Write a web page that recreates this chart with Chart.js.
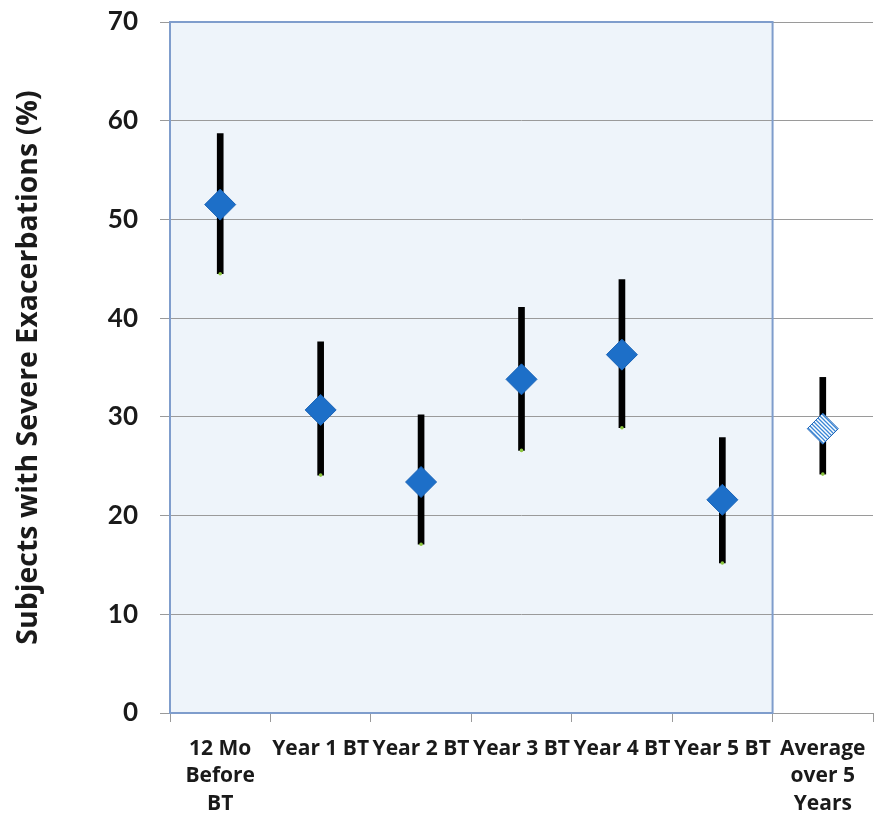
<!DOCTYPE html>
<html>
<head>
<meta charset="utf-8">
<script src="https://cdn.jsdelivr.net/npm/chart.js@4"></script>
<style>
  html, body { margin: 0; padding: 0; background: #fff; overflow: hidden; }
  #wrap { width: 874px; height: 829px; }
  canvas { display: block; }
</style>
</head>
<body>
<div id="wrap"><canvas id="chart" width="874" height="829"></canvas></div>
<script>
// categories along the x axis
var categories = [["12 Mo", "Before", "BT"], "Year 1 BT", "Year 2 BT", "Year 3 BT", "Year 4 BT", "Year 5 BT", ["Average", "over 5", "Years"]];
// percent of subjects with severe exacerbations
var means = [51.5, 30.7, 23.4, 33.8, 36.3, 21.6, 28.8];
var upper = [58.7, 37.6, 30.2, 41.1, 43.9, 27.9, 34.0];
var lower = [44.5, 24.1, 17.1, 26.6, 28.9, 15.2, 24.2];
var yTicks = [0, 10, 20, 30, 40, 50, 60, 70];
// how many categories sit inside the shaded "after BT" box
var shadedCount = 6;

var FONT = "Lato, 'Open Sans', sans-serif";
var FONT2 = "'Open Sans', Lato, sans-serif";

// striped fill for the average marker
function makeStripes() {
  var c = document.createElement('canvas');
  c.width = 4; c.height = 4;
  var g = c.getContext('2d');
  g.fillStyle = '#ffffff';
  g.fillRect(0, 0, 4, 4);
  g.strokeStyle = '#3a86d6';
  g.lineWidth = 1.3;
  g.beginPath();
  g.moveTo(0, 0); g.lineTo(4, 4);
  g.moveTo(-1, 3); g.lineTo(1, 5);
  g.moveTo(3, -1); g.lineTo(5, 1);
  g.stroke();
  return g.createPattern(c, 'repeat');
}

var ranges = [];
for (var i = 0; i < categories.length; i++) {
  ranges.push([lower[i], upper[i]]);
}

var markerFill = [];
for (var i = 0; i < means.length; i++) {
  markerFill.push(i == means.length - 1 ? makeStripes() : '#1d6fc8');
}

// light blue box behind the first six categories
var shadedBox = {
  id: 'shadedBox',
  boxRect: function(chart) {
    var x = chart.scales.x;
    var a = chart.chartArea;
    var right = (x.getPixelForValue(shadedCount - 1) + x.getPixelForValue(shadedCount)) / 2;
    return { l: a.left, t: a.top, r: right, b: a.bottom };
  },
  beforeDraw: function(chart) {
    var r = this.boxRect(chart);
    var ctx = chart.ctx;
    ctx.save();
    ctx.fillStyle = '#eef4fa';
    ctx.fillRect(r.l, r.t, r.r - r.l, r.b - r.t);
    ctx.restore();
  },
  beforeDatasetsDraw: function(chart) {
    var r = this.boxRect(chart);
    var ctx = chart.ctx;
    ctx.save();
    ctx.strokeStyle = '#7f9dcc';
    ctx.lineWidth = 2;
    ctx.strokeRect(r.l, r.t, r.r - r.l, r.b - r.t);
    ctx.restore();
  }
};

var config = {
  type: 'bar',
  data: {
    labels: categories,
    datasets: [{
      type: 'bar',
      label: 'range',
      data: ranges,
      backgroundColor: '#000000',
      barThickness: 6,
      order: 3
    }, {
      type: 'line',
      label: 'low end',
      data: lower,
      showLine: false,
      pointStyle: 'circle',
      pointRadius: 1.8,
      pointBackgroundColor: '#8cc63f',
      pointBorderWidth: 0,
      order: 2
    }, {
      type: 'line',
      label: 'mean',
      data: means,
      showLine: false,
      pointStyle: 'rectRot',
      pointRadius: 15.5,
      pointBackgroundColor: markerFill,
      pointBorderColor: '#1a64b8',
      pointBorderWidth: 1,
      order: 1
    }]
  },
  options: {
    responsive: false,
    animation: false,
    // no auto padding, or the big diamonds push the plot's right edge in
    layout: { autoPadding: false, padding: { top: 22, right: 1, left: 0, bottom: 0 } },
    plugins: {
      legend: { display: false },
      tooltip: { enabled: false }
    },
    scales: {
      x: {
        offset: true,
        grid: {
          offset: true,
          drawOnChartArea: false,
          drawTicks: true,
          tickLength: 9,
          color: '#9a9a9a'
        },
        border: { color: '#9a9a9a', width: 1 },
        ticks: {
          color: '#1a1a1a',
          padding: 13,
          maxRotation: 0,
          autoSkip: false,
          font: { family: FONT2, size: 21, weight: 'bold', lineHeight: 1.31 }
        },
        afterFit: function(s) {
          s.height = 116;
          s.paddingLeft = 0;
          s.paddingRight = 0;
        }
      },
      y: {
        min: 0,
        max: 70,
        afterBuildTicks: function(s) {
          s.ticks = yTicks.map(function(v) { return { value: v }; });
        },
        grid: {
          color: '#9a9a9a',
          tickLength: 10
        },
        border: { display: false },
        ticks: {
          color: '#1a1a1a',
          padding: 22,
          font: { family: FONT, size: 26, weight: 'bold' }
        },
        title: {
          display: true,
          text: 'Subjects with Severe Exacerbations (%)',
          color: '#1a1a1a',
          padding: { top: 12, bottom: 0 },
          font: { family: FONT2, size: 28.5, weight: 'bold' }
        },
        afterFit: function(s) {
          s.width = 170;
          s.paddingTop = 0;
          s.paddingBottom = 0;
        }
      }
    }
  },
  plugins: [shadedBox]
};

var ctx = document.getElementById('chart').getContext('2d');
window.myChart = new Chart(ctx, config);
</script>
</body>
</html>
